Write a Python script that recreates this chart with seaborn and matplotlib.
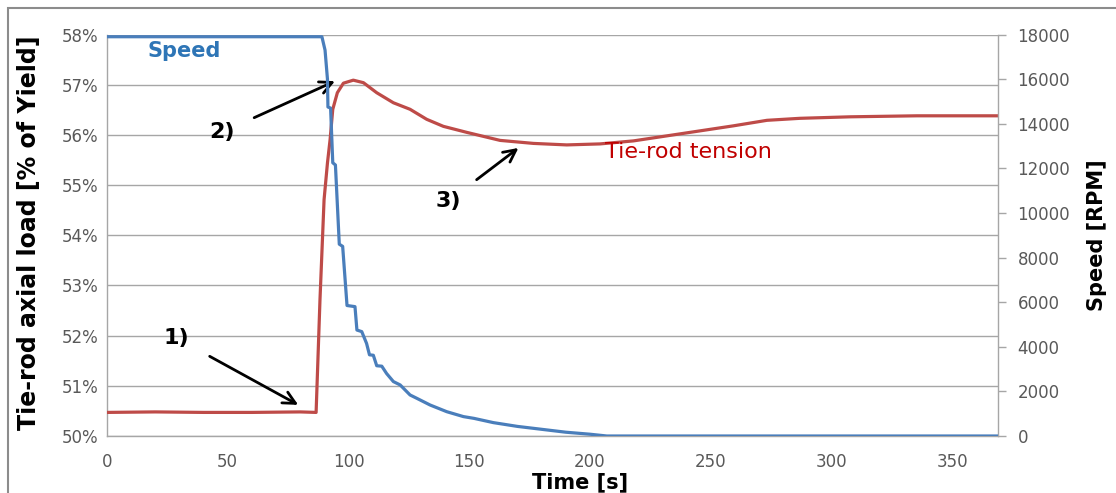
import matplotlib
matplotlib.use("Agg")
import matplotlib.pyplot as plt
from matplotlib.patches import Rectangle
import seaborn as sns
import pandas as pd

# ---- data ----
speed_t = [0, 89, 90.3, 91.3, 91.5, 92.6, 93.5, 94.6, 96.2, 97.6, 99.4, 102.7, 103.5, 105.5,
           107.5, 108.7, 110.3, 111.7, 113.8, 115.8, 118.6, 121.4, 125.5, 128.3, 133.8, 140.7,
           147.6, 152, 160, 170, 180, 190, 200, 207, 369]
speed_rpm = [17900, 17900, 17300, 16000, 14750, 14700, 12250, 12150, 8600, 8500, 5850, 5800,
             4750, 4680, 4150, 3640, 3620, 3150, 3130, 2800, 2440, 2290, 1840, 1690, 1390, 1090,
             870, 790, 600, 430, 300, 170, 80, 0, 0]

tension_t = [0, 20, 40, 60, 80, 86.6, 88.2, 89.9, 91.3, 92.4, 93.5, 95.4, 97.9, 102, 106.2,
             111.7, 118.6, 125.5, 132.4, 139.3, 149, 162.8, 176.6, 190.4, 204.2, 218, 231.8,
             245.6, 259.4, 273.3, 287, 307.8, 335.4, 369]
tension_pct = [50.47, 50.48, 50.47, 50.47, 50.48, 50.47, 52.71, 54.71, 55.44, 55.91, 56.51,
               56.84, 57.03, 57.09, 57.04, 56.84, 56.64, 56.51, 56.31, 56.17, 56.05, 55.89,
               55.83, 55.80, 55.82, 55.88, 55.98, 56.08, 56.18, 56.29, 56.33, 56.36, 56.38, 56.38]

x_ticks = [0, 50, 100, 150, 200, 250, 300, 350]
left_ticks = [50, 51, 52, 53, 54, 55, 56, 57, 58]
right_ticks = [0, 2000, 4000, 6000, 8000, 10000, 12000, 14000, 16000, 18000]

speed_df = pd.DataFrame({"t": speed_t, "rpm": speed_rpm})
tension_df = pd.DataFrame({"t": tension_t, "pct": tension_pct})

sns.set_style("white")
plt.rcParams['font.family'] = ['DejaVu Sans']
plt.rcParams['text.color'] = 'black'

W, H = 1116, 493
fig = plt.figure(figsize=(W / 100, H / 100), dpi=100)
ax = fig.add_axes([107 / W, (H - 436) / H, (998 - 107) / W, (436 - 34.5) / H])
ax2 = ax.twinx()

BLUE = "#4A7EBB"
RED = "#BE4B48"
TICKC = "#595959"
GRID = "#A6A6A6"

sns.lineplot(data=tension_df, x="t", y="pct", ax=ax, color=RED, linewidth=2.3, zorder=3)
sns.lineplot(data=speed_df, x="t", y="rpm", ax=ax2, color=BLUE, linewidth=2.3, zorder=3)

ax.set_xlim(0, 369)
ax.set_ylim(50, 58)
ax2.set_ylim(0, 18000)
ax.set_xticks(x_ticks)
ax.set_yticks(left_ticks)
ax.set_yticklabels([f"{v}%" for v in left_ticks])
ax2.set_yticks(right_ticks)
ax2.set_yticklabels([str(v) for v in right_ticks])

ax.grid(axis="y", color=GRID, linewidth=1.0)
ax.grid(axis="x", visible=False)
ax2.grid(False)

for a in (ax, ax2):
    for s in a.spines.values():
        s.set_visible(False)
ax.spines["left"].set_visible(True)
ax.spines["bottom"].set_visible(True)
ax2.spines["right"].set_visible(True)
for s in (ax.spines["left"], ax.spines["bottom"], ax2.spines["right"]):
    s.set_color(GRID)
    s.set_linewidth(1.0)

ax.tick_params(axis="x", colors=TICKC, labelsize=12, length=0, pad=12)
ax.tick_params(axis="y", colors=TICKC, labelsize=12, length=0, pad=6)
ax2.tick_params(axis="y", colors=TICKC, labelsize=12, length=6, width=1, direction="out", pad=8)
ax2.tick_params(axis="y", color=GRID)

ax.set_xlabel("Time [s]", fontsize=15, fontweight="bold", color="black")
ax.set_ylabel("Tie-rod axial load [% of Yield]", fontsize=17, fontweight="bold", color="black")
ax2.set_ylabel("Speed [RPM]", fontsize=15, fontweight="bold", color="black", labelpad=12)
ax.xaxis.set_label_coords(0.531, -0.09)
ax.yaxis.set_label_coords(-0.074, 0.505)

# series labels
ax.text(32, 57.68, "Speed", color="#2E75B6", fontsize=15, fontweight="bold", ha="center", va="center")
ax.text(241, 55.66, "Tie-rod tension", color="#C00000", fontsize=16, ha="center", va="center")

# numbered annotations
arrow = dict(arrowstyle="->", color="black", lw=2, mutation_scale=22)
ax.annotate("1)", xy=(79.2, 50.62), xytext=(28.8, 51.95), fontsize=16, fontweight="bold", color="black",
            ha="center", va="center", arrowprops=dict(arrow, shrinkA=14, shrinkB=0))
ax.annotate("2)", xy=(94.4, 57.07), xytext=(47.5, 56.05), fontsize=16, fontweight="bold", color="black",
            ha="center", va="center", arrowprops=dict(arrow, shrinkA=13, shrinkB=0))
ax.annotate("3)", xy=(170.4, 55.74), xytext=(141.4, 54.68), fontsize=16, fontweight="bold", color="black",
            ha="center", va="center", arrowprops=dict(arrow, shrinkA=11, shrinkB=0))

# outer frame
fig.patches.append(Rectangle((8 / W, -0.1), 1.2, (H - 8) / H + 0.1, transform=fig.transFigure,
                             fill=False, edgecolor="#8C8C8C", linewidth=1.5))

fig.savefig("out.png", dpi=100)
